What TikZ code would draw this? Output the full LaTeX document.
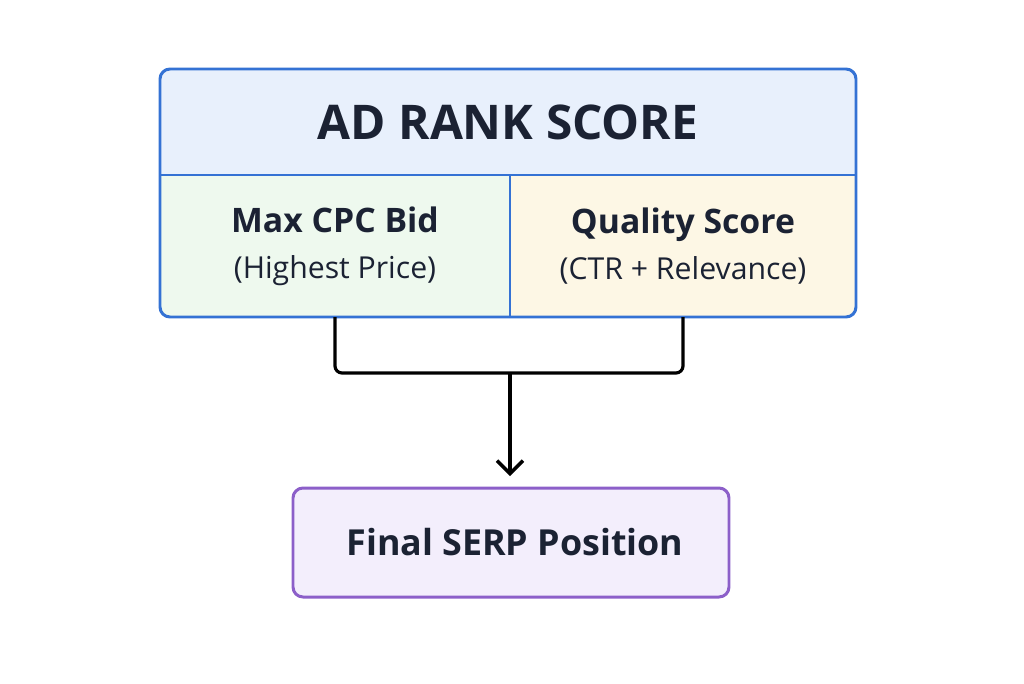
\documentclass[tikz,border=0pt]{standalone}
\usepackage{fontspec}
\setmainfont{Open Sans}
\usetikzlibrary{positioning,arrows.meta}

\definecolor{inkdark}{HTML}{1B2233}
\definecolor{rankline}{HTML}{3472D4}
\definecolor{rankfill}{HTML}{E8F0FC}
\definecolor{bidfill}{HTML}{EEF9EE}
\definecolor{qualfill}{HTML}{FDF7E5}
\definecolor{serpline}{HTML}{8C5FC9}
\definecolor{serpfill}{HTML}{F3EEFC}

\newcommand{\cellhead}[1]{{\fontsize{9.6}{13}\selectfont\bfseries #1}}
\newcommand{\cellsub}[1]{{\fontsize{8.6}{13}\selectfont #1}}

\begin{document}
\begin{tikzpicture}
    [node distance = 0pt, every node/.style={align=center, outer sep=0pt,
      inner sep=0pt, text=inkdark, font=\fontsize{8.6}{13}\selectfont},
     cell/.style = {minimum height=1.42cm},
     wire/.style = {draw=black, line width=0.9pt}]

    \useasboundingbox (0,0) rectangle (10.24,6.83);

    \begin{scope}
      \clip[rounded corners=0.1cm] (1.60,3.66) rectangle (8.56,6.14);
      \node (rank) [fill=rankfill, minimum width=6.96cm, minimum height=1.06cm,
        font=\fontsize{13.6}{16}\selectfont\bfseries] at (5.08,5.61)
      {AD RANK SCORE};
      \node (bid) [cell, fill=bidfill, minimum width=3.5cm,
        below right=of rank.south west]
      {\cellhead{Max CPC Bid}\\\cellsub{(Highest Price)}};
      \node (quality) [cell, fill=qualfill, minimum width=3.46cm, right=of bid]
      {\cellhead{Quality Score}\\\cellsub{(CTR + Relevance)}};
    \end{scope}
    \draw[rankline, line width=0.85pt, rounded corners=0.1cm]
      (rank.north west) rectangle (quality.south east);
    \draw[rankline, line width=0.85pt] (bid.north west) -- (quality.north east);
    \draw[rankline, line width=0.85pt] (bid.north east) -- (bid.south east);

    \node (serp) [draw=serpline, fill=serpfill, line width=0.85pt,
      rounded corners=0.1cm, minimum width=4.36cm, minimum height=1.09cm,
      font=\fontsize{10.2}{14}\selectfont\bfseries] at (5.11,1.405)
    {\hspace{0.08cm}Final SERP Position};

    % merge the two factors, then down to the result
    \coordinate (join) at (5.10,3.10);
    \draw[wire, rounded corners=2pt] (bid.south) -- ++(0,-0.56) -| (quality.south);
    \draw[wire, -{Straight Barb[length=1.3mm, width=2.6mm, line width=1pt]},
      shorten >=1.2mm] (join) -- (join |- serp.north);
  \end{tikzpicture}
\end{document}
